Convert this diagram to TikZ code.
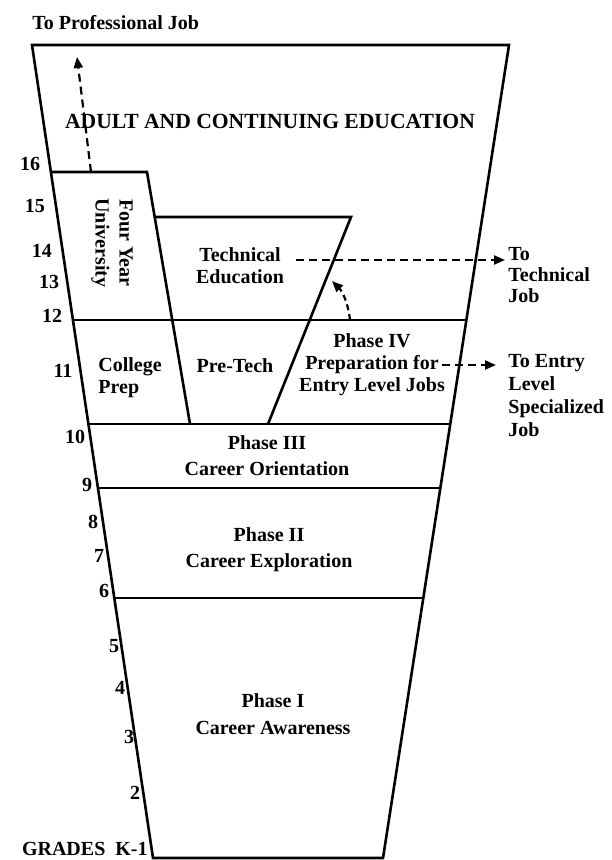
\documentclass[tikz,border=0pt]{standalone}
\usepackage{fontspec}
\setmainfont{Liberation Serif}
\usetikzlibrary{arrows.meta,calc,positioning}

\begin{document}
\begin{tikzpicture}[x=0.5pt, y=-0.5pt, font=\fontsize{10}{11}\selectfont\bfseries]
    \tikzstyle{wall} = [draw, line width=1.3pt, line join=miter]
    \tikzstyle{txt} = [inner sep=0pt, align=center]
    \tikzstyle{grade} = [inner sep=0pt]
    \tikzstyle{flow} = [draw, line width=1.1pt, dash pattern=on 4pt off 2.5pt, -{Triangle[length=5.5pt, width=4.5pt]}]

    \useasboundingbox (0,0) rectangle (611,860);

    % Funnel outline
    \coordinate (tl) at (32,45);
    \coordinate (tr) at (509,45);
    \coordinate (br) at (383,858);
    \coordinate (bl) at (153,858);
    \draw[wall] (tl) -- (tr) -- (br) -- (bl) -- cycle;

    % Grade lines
    \foreach \y in {320,424,488,598}
        \draw[wall] ($(tl)!{(\y-45)/813}!(bl)$) -- ($(tr)!{(\y-45)/813}!(br)$);

    % Four Year University
    \coordinate (u1) at ($(tl)!{(172-45)/813}!(bl)$);
    \coordinate (u2) at (147,172);
    \coordinate (u3) at (190,424);
    \draw[wall] (u1) -- (u2) -- (u3);

    % Technical Education
    \coordinate (t1) at ($(u2)!{45/252}!(u3)$);
    \coordinate (t2) at (351,217);
    \coordinate (t3) at (268,424);
    \draw[wall] (t1) -- (t2) -- (t3);

    % Grades
    \foreach \g/\x/\y in {16/30/164, 15/35/206, 14/42/251, 13/49/282, 12/52/316, 11/63/371,
                          10/75/437, 9/87/485, 8/93/522, 7/99/556, 6/104/591,
                          5/114/646, 4/120/688, 3/129/737, 2/135/793}
        \node[grade] (g\g) at (\x,\y) {\g};
    \node[grade, anchor=base east] (grades) at (148,855) {GRADES\enspace K-1};

    % Boxes
    \node[txt, font=\fontsize{10.8}{12}\selectfont\bfseries] (adult) at (270,121) {ADULT AND CONTINUING EDUCATION};
    \node[txt, rotate=-90, font=\fontsize{10}{12}\selectfont\bfseries] (univ) at (112,243) {Four Year\\University};
    \node[txt] (techedu) at (240,266) {Technical\\Education};
    \node[txt, align=left, anchor=west] (college) at (98,378) {College\\Prep};
    \node[txt] (pretech) at (235,366) {Pre-Tech};
    \node[txt] (phasefour) at (372,365) {Phase IV\\Preparation for\\Entry Level Jobs};
    \node[txt, font=\fontsize{10}{13}\selectfont\bfseries] (phasethree) at (267,456) {Phase III\\Career Orientation};
    \node[txt, font=\fontsize{10}{13}\selectfont\bfseries] (phasetwo) at (269,550) {Phase II\\Career Exploration};
    \node[txt, font=\fontsize{10}{13.5}\selectfont\bfseries] (phaseone) at (273,714) {Phase I\\Career Awareness};

    % Jobs
    \node[grade, anchor=base west] (profjob) at (32,30) {To Professional Job};
    \node[txt, align=left, anchor=west, font=\fontsize{10}{10.5}\selectfont\bfseries] (techjob) at (508,275) {To\\Technical\\Job};
    \node[txt, align=left, anchor=west, font=\fontsize{10}{11.5}\selectfont\bfseries] (entryjob) at (508,396) {To Entry\\Level\\Specialized\\Job};

    % Arrows
    \coordinate (univtop) at (91,172);
    \coordinate (proftip) at (77,57);
    \draw[flow] (univtop) -- (proftip);
    \coordinate (techstart) at ([shift={(6pt,3pt)}]techedu.east);
    \draw[flow, shorten >=1.5pt] (techstart) -- (techstart -| techjob.west);
    \coordinate (entrystart) at ([xshift=-1.5pt]phasefour.east);
    \draw[flow, shorten >=6pt] (entrystart) -- (entrystart -| entryjob.west);
    \coordinate (phasetop) at (350,320);
    \coordinate (slanthit) at (332,281);
    \draw[flow, dash pattern=on 3pt off 2pt] (phasetop) .. controls (348,302) and (342,291) .. (slanthit);
\end{tikzpicture}
\end{document}
